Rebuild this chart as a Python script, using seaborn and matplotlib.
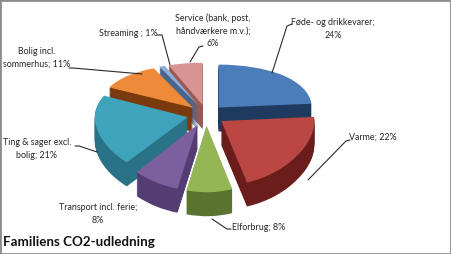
import numpy as np
import matplotlib
matplotlib.use("Agg")
import matplotlib.pyplot as plt
import matplotlib.transforms as mtransforms
from matplotlib.patches import Rectangle
from matplotlib.lines import Line2D
import seaborn as sns

# ---------------- data ----------------
categories = ["Føde- og drikkevarer", "Varme", "Elforbrug", "Transport incl. ferie",
              "Ting & sager excl. bolig", "Bolig incl. sommerhus", "Streaming ",
              "Service (bank, post, håndværkere m.v.)"]
shares = [24, 22, 8, 8, 21, 11, 1, 6]
label_texts = ["Føde- og drikkevarer;\n24%", "Varme; 22%", "Elforbrug; 8%",
               "Transport incl. ferie;\n8%", "Ting & sager excl.\nbolig; 21%",
               "Bolig incl.\nsommerhus; 11%", "Streaming ; 1%",
               "Service (bank, post,\nhåndværkere m.v.);\n6%"]
top_colors = ["#4A7DBA", "#BA4744", "#95B655", "#7C5F9F", "#3FA3BC", "#EE8A3A", "#8FB0D6", "#D79493"]
side_colors = ["#1E3A5E", "#6A1D1B", "#5A7430", "#533D73", "#2A7285", "#7A3A0E", "#48668E", "#9A5856"]
title = "Familiens CO2-udledning"

# ---------------- style ----------------
sns.set_style("white")
plt.rcParams["font.family"] = ["Lato", "DejaVu Sans"]

W, H = 451, 254
fig = plt.figure(figsize=(W / 100, H / 100), dpi=100)
ax = fig.add_axes([0, 0, 1, 1])

explode = [0.2] * len(shares)
depth = 24
for d in range(depth, 0, -1):
    wedges, _ = ax.pie(shares, explode=explode, colors=side_colors, startangle=90,
                       counterclock=False, wedgeprops=dict(linewidth=0))
    off = mtransforms.ScaledTranslation(0, -d / 100, fig.dpi_scale_trans)
    for w in wedges:
        w.set_transform(ax.transData + off)

wedges, _ = ax.pie(shares, explode=explode, colors=top_colors, startangle=90,
                   counterclock=False, wedgeprops=dict(linewidth=0))

# perspective on the vertical axis
A, B = 52.0, 0.16
def fwd(z):
    z = np.asarray(z, dtype=float)
    return A * z / (1 + B * z)
def inv(v):
    v = np.asarray(v, dtype=float)
    return v / (A - B * v)

cx, cy, rx = 206, 115, 93
ax.set_yscale("function", functions=(fwd, inv))
ax.set_xlim(-cx / rx, (W - cx) / rx)
ax.set_ylim(float(inv(-(H - cy))), float(inv(cy)))
ax.set_aspect("auto")
ax.axis("off")

# ---------------- labels ----------------
def P(x, y):
    return (x / W, 1 - y / H)

label_pos = [(333, 29), (373, 137), (259, 228), (98, 214), (37, 149), (37, 58), (128, 33), (213, 31)]
leaders = [
    [(292, 24), (287, 26), (272, 73)],
    [(350, 140), (346, 141), (308, 180)],
    [(231, 229), (227, 229), (212, 219)],
    None,
    [(75, 146), (79, 146), (97, 152)],
    [(69, 68), (73, 68), (142, 74)],
    [(157, 35), (162, 35), (170, 65)],
    [(203, 46), (199, 47), (190, 62)],
]
for txt, (x, y), ld in zip(label_texts, label_pos, leaders):
    fx, fy = P(x, y)
    fig.text(fx, fy, txt, ha="center", va="center", multialignment="center",
             fontsize=6.4, color="#262626", linespacing=1.5)
    if ld:
        xs = [P(px, py)[0] for px, py in ld]
        ys = [P(px, py)[1] for px, py in ld]
        fig.add_artist(Line2D(xs, ys, transform=fig.transFigure, color="#2a2a2a", lw=0.8))

tx, ty = P(3, 242)
fig.text(tx, ty, title, ha="left", va="center", fontsize=9.6, fontweight="bold", color="#111111")

fig.add_artist(Rectangle((0, 0), 1, 1, transform=fig.transFigure, fill=False,
                         edgecolor="#8c8c8c", lw=2))

fig.savefig("out.png", dpi=100)
